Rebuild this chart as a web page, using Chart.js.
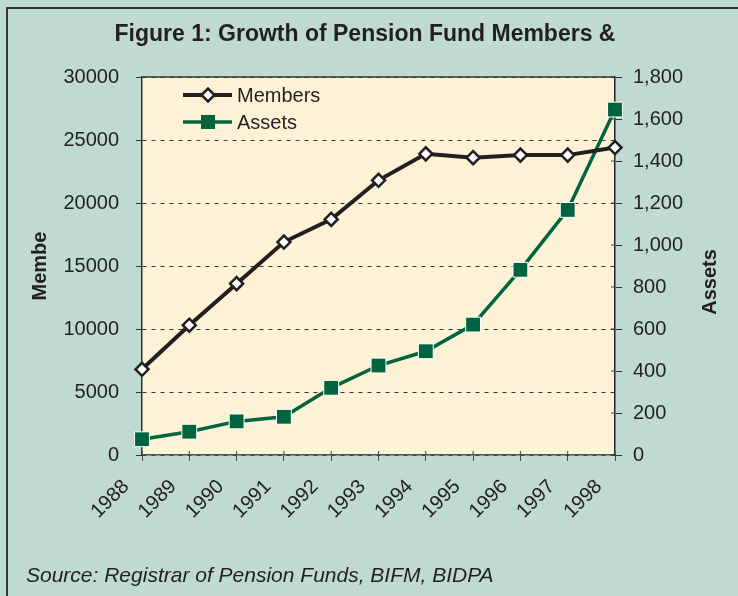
<!DOCTYPE html>
<html>
<head>
<meta charset="utf-8">
<script src="https://cdn.jsdelivr.net/npm/chart.js@4.4.0/dist/chart.umd.min.js"></script>
<style>
  html, body { margin: 0; padding: 0; background: #bfd9d3; width: 738px; height: 596px; overflow: hidden; }
  #frame { position: absolute; left: 6px; top: 7px; width: 800px; height: 700px; border-left: 2px solid #333; border-top: 2px solid #333; }
  #wrap { position: absolute; left: 0; top: 0; width: 738px; height: 596px; }
  #source { position: absolute; left: 26px; top: 562px; font: italic 21px "Liberation Sans", Arial, sans-serif; line-height: 25px; color: #231f20; }
</style>
</head>
<body>
<div id="frame"></div>
<div id="wrap"><canvas id="chart"></canvas></div>
<div id="source">Source: Registrar of Pension Funds, BIFM, BIDPA</div>
<script>
const years = ['1988', '1989', '1990', '1991', '1992', '1993', '1994', '1995', '1996', '1997', '1998'];
const members = [6800, 10300, 13600, 16900, 18700, 21800, 23900, 23600, 23800, 23800, 24400];
const assets = [75, 111, 160, 182, 320, 426, 494, 621, 882, 1167, 1645];
const membersAxis = [0, 30000, 5000];   // min, max, step
const assetsAxis = [0, 1800, 200];

const FONT = '"Liberation Sans", Arial, sans-serif';
const INK = '#231f20';
const GREEN = '#00643f';

// cream plot background and top edge of the plot frame
const plotBox = {
    id: 'plotBox',
    beforeDraw(chart) {
        const { ctx, chartArea: a } = chart;
        ctx.save();
        ctx.fillStyle = '#fdf2d6';
        ctx.fillRect(a.left, a.top, a.right - a.left, a.bottom - a.top);
        ctx.restore();
    },
    beforeDatasetsDraw(chart) {
        const { ctx, chartArea: a } = chart;
        ctx.save();
        ctx.strokeStyle = '#333';
        ctx.lineWidth = 1.5;
        ctx.beginPath();
        ctx.moveTo(a.left, a.top);
        ctx.lineTo(a.right, a.top);
        ctx.stroke();

        // short tick marks on the inside of the x and right axes
        const x = chart.scales.x;
        const y1 = chart.scales.y1;
        ctx.lineWidth = 1;
        ctx.strokeStyle = '#444';
        x.ticks.forEach((t, i) => {
            const px = x.getPixelForTick(i);
            ctx.beginPath();
            ctx.moveTo(px, a.bottom);
            ctx.lineTo(px, a.bottom - 4);
            ctx.stroke();
        });
        y1.ticks.forEach(t => {
            const py = y1.getPixelForValue(t.value);
            ctx.beginPath();
            ctx.moveTo(a.right, py);
            ctx.lineTo(a.right - 4, py);
            ctx.stroke();
        });
        ctx.restore();
    }
};

// legend with line + marker, and the upward right axis title
const extras = {
    id: 'extras',
    afterDraw(chart) {
        const { ctx } = chart;
        ctx.save();
        ctx.font = '20px ' + FONT;
        ctx.textBaseline = 'middle';
        ctx.fillStyle = INK;

        // Members
        ctx.strokeStyle = INK;
        ctx.lineWidth = 4;
        ctx.beginPath();
        ctx.moveTo(183, 95);
        ctx.lineTo(232, 95);
        ctx.stroke();
        ctx.fillStyle = '#fff';
        ctx.lineWidth = 2.5;
        ctx.beginPath();
        ctx.moveTo(208 - 6.5, 95);
        ctx.lineTo(208, 95 - 6.5);
        ctx.lineTo(208 + 6.5, 95);
        ctx.lineTo(208, 95 + 6.5);
        ctx.closePath();
        ctx.fill();
        ctx.stroke();
        ctx.fillStyle = INK;
        ctx.fillText('Members', 237, 96);

        // Assets
        ctx.strokeStyle = GREEN;
        ctx.lineWidth = 3.5;
        ctx.beginPath();
        ctx.moveTo(183, 122);
        ctx.lineTo(232, 122);
        ctx.stroke();
        ctx.fillStyle = GREEN;
        ctx.fillRect(208 - 7, 122 - 7, 14, 14);
        ctx.fillStyle = INK;
        ctx.fillText('Assets', 237, 123);

        ctx.font = 'bold 20px ' + FONT;
        ctx.textAlign = 'center';
        ctx.translate(710, 282);
        ctx.rotate(-Math.PI / 2);
        ctx.fillText('Assets', 0, 0);
        ctx.restore();
    }
};

new Chart(document.getElementById('chart'), {
    type: 'line',
    data: {
        labels: years,
        datasets: [
            {
                label: 'Members',
                data: members,
                yAxisID: 'y',
                borderColor: INK,
                borderWidth: 4,
                pointStyle: 'rectRot',
                pointRadius: 6.5,
                pointBackgroundColor: '#fff',
                pointBorderColor: INK,
                pointBorderWidth: 2.5,
                tension: 0,
                clip: false
            },
            {
                label: 'Assets',
                data: assets,
                yAxisID: 'y1',
                borderColor: GREEN,
                borderWidth: 3.5,
                pointStyle: 'rect',
                pointRadius: 10.5,
                pointBackgroundColor: GREEN,
                pointBorderColor: '#fff',
                pointBorderWidth: 1,
                tension: 0,
                clip: false
            }
        ]
    },
    options: {
        responsive: true,
        maintainAspectRatio: false,
        animation: false,
        layout: { padding: { left: 8, right: 16, top: 0, bottom: 0 } },
        plugins: {
            legend: { display: false },
            tooltip: { enabled: false },
            title: {
                display: true,
                text: 'Figure 1: Growth of Pension Fund Members &',
                color: INK,
                font: { family: FONT, size: 23, weight: 'bold' },
                padding: { top: 21, bottom: 28.4 }
            }
        },
        scales: {
            x: {
                offset: false,
                grid: { drawOnChartArea: false, tickLength: 6, color: '#444' },
                border: { color: '#555', width: 1.5 },
                ticks: {
                    color: INK,
                    font: { family: FONT, size: 20 },
                    minRotation: 45,
                    maxRotation: 45,
                    labelOffset: -16,
                    padding: 14
                },
                afterFit(s) { s.height = 141; }
            },
            y: {
                position: 'left',
                min: membersAxis[0],
                max: membersAxis[1],
                grid: { color: '#333', tickLength: 6 },
                border: { color: '#333', width: 1.5, dash: [4, 5] },
                ticks: {
                    stepSize: membersAxis[2],
                    color: INK,
                    font: { family: FONT, size: 20 },
                    padding: 17,
                    callback: v => String(v)
                },
                title: {
                    display: true,
                    text: 'Membe',
                    color: INK,
                    font: { family: FONT, size: 20, weight: 'bold' },
                    padding: { top: 20, bottom: 0 }
                },
                afterFit(s) { s.width = 134; }
            },
            y1: {
                position: 'right',
                min: assetsAxis[0],
                max: assetsAxis[1],
                grid: { drawOnChartArea: false, color: '#333', tickLength: 7 },
                border: { color: '#222', width: 1.5 },
                ticks: {
                    stepSize: assetsAxis[2],
                    color: INK,
                    font: { family: FONT, size: 20 },
                    padding: 11
                },
                afterFit(s) { s.width = 107; }
            }
        }
    },
    plugins: [plotBox, extras]
});
</script>
</body>
</html>
